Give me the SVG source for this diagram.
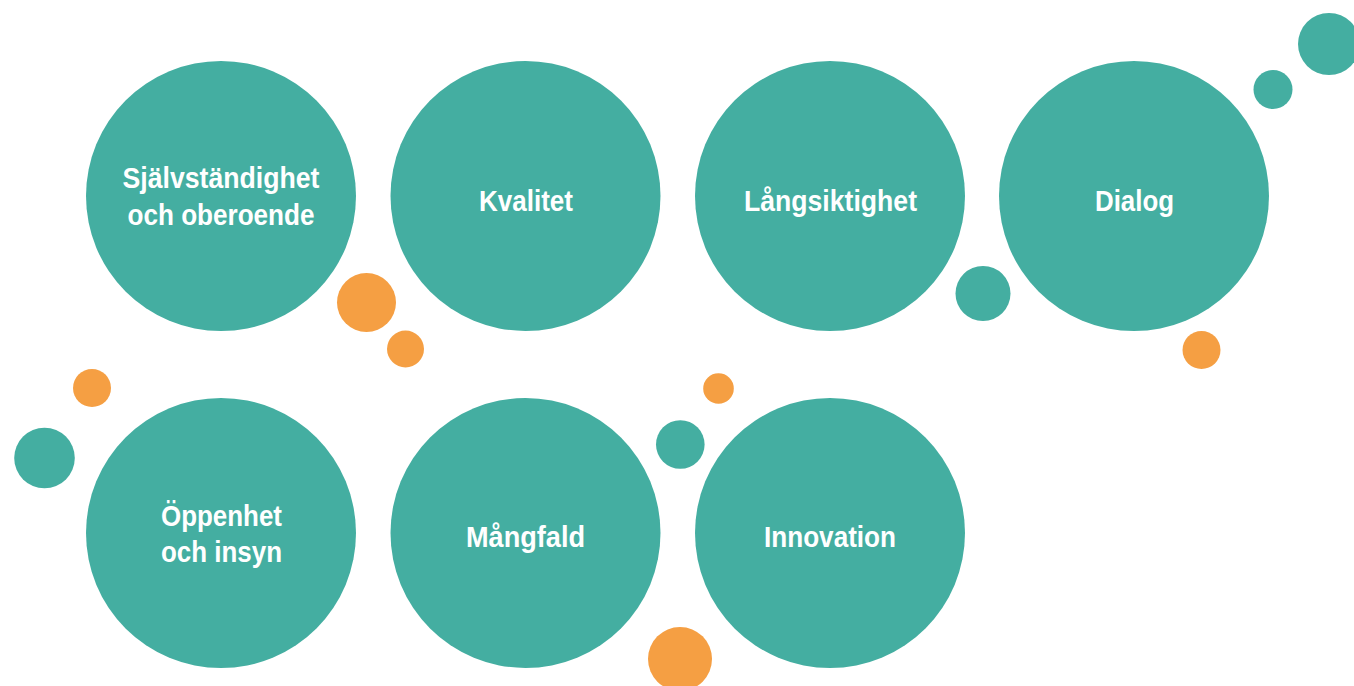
<svg xmlns="http://www.w3.org/2000/svg" width="1354" height="686" viewBox="0 0 1354 686">
<style>
.big{fill:#44AEA1}
.teal{fill:#44AEA1}
.orange{fill:#F59F43}
.lbl{font-family:"Liberation Sans",Arial,sans-serif;font-weight:bold;font-size:30px;fill:#ffffff;text-anchor:middle}
</style>
<rect width="1354" height="686" fill="#ffffff"/>
<g id="decor">
<circle class="orange" cx="366.5" cy="302.5" r="29.5"/>
<circle class="orange" cx="405.5" cy="349" r="18.5"/>
<circle class="teal" cx="983" cy="293.5" r="27.5"/>
<circle class="orange" cx="1201.5" cy="350" r="19"/>
<circle class="teal" cx="1273" cy="89.5" r="19.5"/>
<circle class="teal" cx="1329" cy="44" r="31"/>
<circle class="orange" cx="92" cy="388" r="19"/>
<circle class="teal" cx="44.5" cy="458" r="30.3"/>
<circle class="orange" cx="718.5" cy="388.5" r="15.3"/>
<circle class="teal" cx="680.3" cy="444.5" r="24.3"/>
<circle class="orange" cx="680" cy="659" r="32"/>
</g>
<g id="node-sjalvstandighet">
<circle class="big" cx="221" cy="196" r="135"/>
<text class="lbl" x="221" y="188" textLength="197" lengthAdjust="spacingAndGlyphs">Självständighet</text>
<text class="lbl" x="221" y="225" textLength="187" lengthAdjust="spacingAndGlyphs">och oberoende</text>
</g>
<g id="node-kvalitet">
<circle class="big" cx="525.5" cy="196" r="135"/>
<text class="lbl" x="526" y="211" textLength="94" lengthAdjust="spacingAndGlyphs">Kvalitet</text>
</g>
<g id="node-langsiktighet">
<circle class="big" cx="830" cy="196" r="135"/>
<text class="lbl" x="830.5" y="211" textLength="173" lengthAdjust="spacingAndGlyphs">Långsiktighet</text>
</g>
<g id="node-dialog">
<circle class="big" cx="1134" cy="196" r="135"/>
<text class="lbl" x="1134.5" y="211" textLength="79" lengthAdjust="spacingAndGlyphs">Dialog</text>
</g>
<g id="node-oppenhet">
<circle class="big" cx="221" cy="533" r="135"/>
<text class="lbl" x="221.5" y="526" textLength="121" lengthAdjust="spacingAndGlyphs">Öppenhet</text>
<text class="lbl" x="221.5" y="562" textLength="121" lengthAdjust="spacingAndGlyphs">och insyn</text>
</g>
<g id="node-mangfald">
<circle class="big" cx="525.5" cy="533" r="135"/>
<text class="lbl" x="525.5" y="547" textLength="119" lengthAdjust="spacingAndGlyphs">Mångfald</text>
</g>
<g id="node-innovation">
<circle class="big" cx="830" cy="533" r="135"/>
<text class="lbl" x="830" y="547" textLength="132" lengthAdjust="spacingAndGlyphs">Innovation</text>
</g>
<g id="connectors"></g>
</svg>
